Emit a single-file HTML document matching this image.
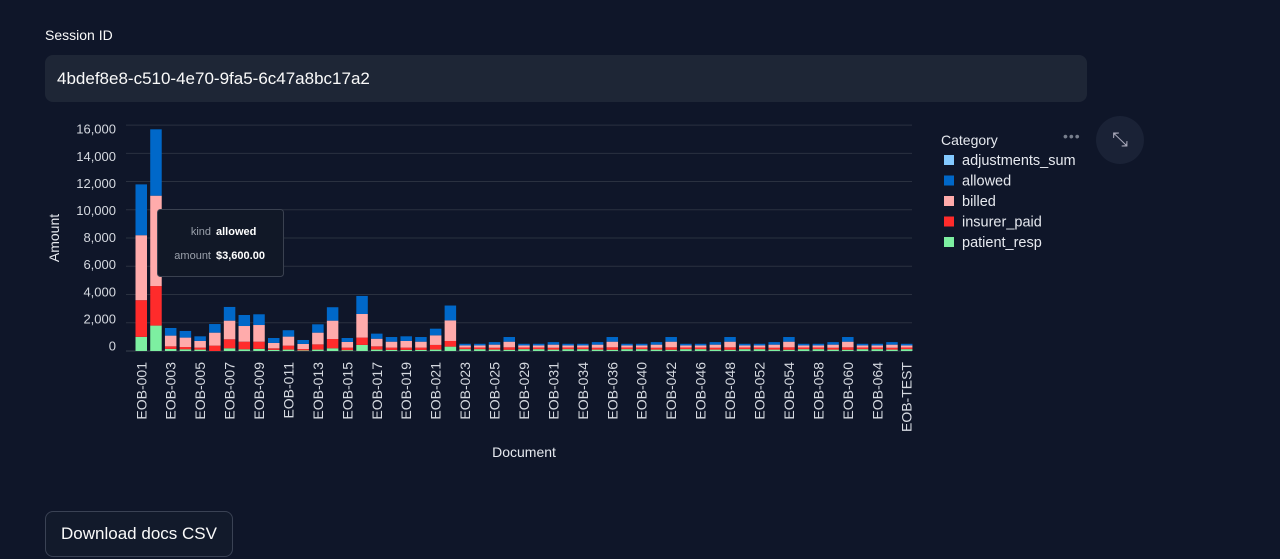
<!DOCTYPE html>
<html><head><meta charset="utf-8"><style>
body{margin:0;width:1280px;height:559px;background:#0f1629;font-family:"Liberation Sans",sans-serif;color:#fafafa;overflow:hidden;position:relative}
.lbl{position:absolute;left:45px;top:27px;font-size:14px}
.inp{position:absolute;left:45px;top:55px;width:1042px;height:47px;background:#1e2636;border-radius:8px;font-size:17px;line-height:47px;box-sizing:border-box;padding-left:12px}
.btn{position:absolute;left:45px;top:511px;width:188px;height:46px;border:1px solid #3a4254;border-radius:8px;box-sizing:border-box;font-size:17px;line-height:44px;text-align:center;background:#121a2b}
.exp{position:absolute;left:1096px;top:116px;width:48px;height:48px;border-radius:50%;background:#1a2236;color:#aab;font-size:20px;line-height:48px;text-align:center}
.dots{position:absolute;left:1063px;top:128px;color:#777e8c;font-size:14px;letter-spacing:1px}
svg{position:absolute;left:0;top:0}
</style></head><body>
<div class="lbl">Session ID</div>
<div class="inp">4bdef8e8-c510-4e70-9fa5-6c47a8bc17a2</div>
<div class="dots">•••</div>
<div class="exp">⤡</div>
<div class="btn">Download docs CSV</div>
<svg id="chart" width="1280" height="559"></svg>
<script>
const docs=["EOB-001","EOB-002","EOB-003","EOB-004","EOB-005","EOB-006","EOB-007","EOB-008","EOB-009","EOB-010","EOB-011","EOB-012","EOB-013","EOB-014","EOB-015","EOB-016","EOB-017","EOB-018","EOB-019","EOB-020","EOB-021","EOB-022","EOB-023","EOB-024","EOB-025","EOB-027","EOB-029","EOB-030","EOB-031","EOB-033","EOB-034","EOB-035","EOB-036","EOB-038","EOB-040","EOB-041","EOB-042","EOB-044","EOB-046","EOB-047","EOB-048","EOB-050","EOB-052","EOB-053","EOB-054","EOB-056","EOB-058","EOB-059","EOB-060","EOB-062","EOB-064","EOB-065","EOB-TEST"];
const sizes="SSMLSSMSSMLSSMLSSMLSSMLSSMLSSMS";
const tailP={S:130,M:100,L:90},tailR={S:120,M:130,L:170},tailB={S:140,M:220,L:400},tailA={S:120,M:180,L:330};
const patient=[1000,1800,150,120,100,0,190,120,150,80,100,40,100,190,60,430,100,80,80,80,100,310].concat([...sizes].map(s=>tailP[s]));
const insurer=[2600,2800,180,160,140,380,640,540,510,110,280,100,370,660,180,520,230,160,160,160,330,400].concat([...sizes].map(s=>tailR[s]));
const billed=[4600,6400,760,670,470,920,1320,1110,1180,380,640,360,830,1300,400,1670,540,420,470,420,680,1460].concat([...sizes].map(s=>tailB[s]));
const allowed=[3600,4700,540,470,330,610,970,780,760,350,450,280,590,950,280,1280,360,330,330,330,470,1050].concat([...sizes].map(s=>tailA[s]));
const adjustments=new Array(53).fill(0);
const yTicks=[0,2000,4000,6000,8000,10000,12000,14000,16000];
const seriesNames=["patient_resp","insurer_paid","billed","allowed","adjustments_sum"];
const colors=["#7defa1","#ff2b2b","#ffabab","#0068c9","#83c9ff"];
const series=[patient,insurer,billed,allowed,adjustments];
const NS="http://www.w3.org/2000/svg",svg=document.getElementById("chart");
const x0=135.5,step=14.72,bw=11.5,yBase=351,scale=14.12/1000;
const y=v=>yBase-v*scale, x=i=>x0+i*step;
const yl=v=>350.5-v*0.01355;
function mk(t,a,txt){const e=document.createElementNS(NS,t);for(const k in a)e.setAttribute(k,a[k]);if(txt!=null)e.textContent=txt;svg.appendChild(e);return e;}
yTicks.forEach(t=>{
 const g=mk("line",{x1:126,x2:912,y1:y(t),y2:y(t),stroke:t===0?"#3a4150":"#2a3140","stroke-width":1});
 
 
 const l=mk("text",{x:116,y:yl(t),"text-anchor":"end","font-size":13,fill:"#d5d9e0"},t.toLocaleString("en-US"));
 
 
});
docs.forEach((d,i)=>{
 let cum=0;
 series.forEach((s,k)=>{
  const v=s[i]; if(!v){return;}
  const r=mk("rect",{x:x(i),y:y(cum+v),width:bw,height:Math.max(0,y(cum)-y(cum+v)),fill:colors[k]});
  
  
  cum+=v;
 });
 if(i%2===0){
  const cx=x(i)+bw/2+5,cy=362;
  const t=mk("text",{x:cx,y:cy,transform:`rotate(-90 ${cx} ${cy})`,"text-anchor":"end","font-size":14,fill:"#d5d9e0"},d);
  
  
 }
});
let e;
e=mk("text",{x:59,y:238,transform:"rotate(-90 59 238)","text-anchor":"middle","font-size":14,fill:"#e6e9ef"},"Amount");


e=mk("text",{x:524,y:457,"text-anchor":"middle","font-size":14,fill:"#e6e9ef"},"Document");


e=mk("text",{x:941,y:145,"font-size":14,fill:"#e6e9ef"},"Category");


["adjustments_sum","allowed","billed","insurer_paid","patient_resp"].forEach((n,i)=>{
 const c=colors[seriesNames.indexOf(n)],yy=155+i*20.5;
 const r=mk("rect",{x:944,y:yy,width:10,height:10,fill:c});
 
 
 const t=mk("text",{x:962,y:yy+10,"font-size":14.5,fill:"#e6e9ef"},n);
 
 
});
e=mk("rect",{x:157.5,y:209.5,width:126,height:67,rx:3,fill:"#111827",stroke:"#3a4150"});


e=mk("text",{x:211,y:235,"text-anchor":"end","font-size":11,fill:"#9aa0ab"},"kind");


e=mk("text",{x:216,y:235,"font-size":11,"font-weight":"bold",fill:"#fff"},"allowed");


e=mk("text",{x:211,y:259,"text-anchor":"end","font-size":11,fill:"#9aa0ab"},"amount");


e=mk("text",{x:216,y:259,"font-size":11,"font-weight":"bold",fill:"#fff"},"$3,600.00");


</script>
</body></html>
